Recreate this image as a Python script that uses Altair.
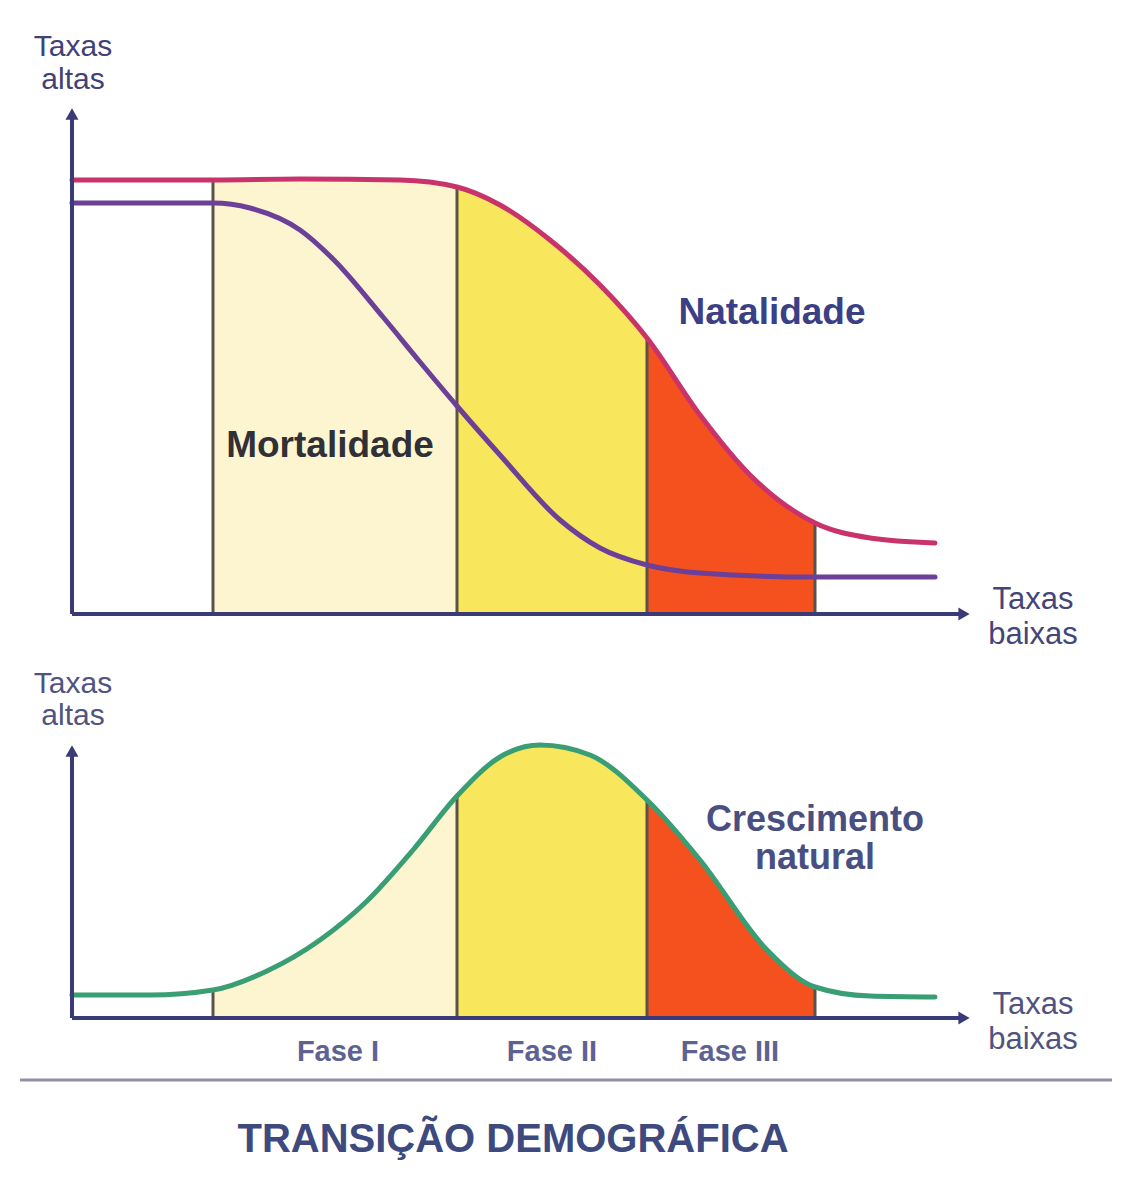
import altair as alt
import pandas as pd

# ---------------- data (x = time, y = rate; arbitrary units) -------------
nat_x = [0, 141, 228, 328, 385, 428, 478, 528, 575, 628, 678, 743, 798, 863]
nat_y = [434, 434, 435, 434, 427, 409, 374, 329, 276, 199, 139, 91, 76, 71]

mor_x = [0, 141, 178, 228, 261, 311, 348, 385, 428, 488, 528, 575, 628, 743, 863]
mor_y = [411, 411, 406, 384, 355, 297, 252, 208, 159, 94, 66, 49, 41, 37, 37]

cre_x = [0, 78, 141, 195, 248, 295, 341, 385, 428, 468, 518, 575, 628, 695, 743, 798, 863]
cre_y = [23, 23, 28, 47, 78, 117, 168, 222, 261, 273, 263, 218, 158, 68, 31, 22, 21]

phase_names = ["Fase I", "Fase II", "Fase III"]
phase_start = [141, 385, 575]
phase_end = [385, 575, 743]
phase_colors = ["#FCF5D0", "#F8E65C", "#F4511F"]
boundaries = [141, 385, 575, 743]

title_text = "TRANSIÇÃO DEMOGRÁFICA"

# ---------------- helpers ----------------
nat = pd.DataFrame({"x": nat_x, "y": nat_y})
mor = pd.DataFrame({"x": mor_x, "y": mor_y})
cre = pd.DataFrame({"x": cre_x, "y": cre_y})

X_DOM = [-64, 1046]
TOP_DOM = [-54, 606]
BOT_DOM = [-170, 350]
AXIS_COL = "#3A3B76"


def X(field="x"):
    return alt.X(f"{field}:Q", scale=alt.Scale(domain=X_DOM, nice=False, zero=False), axis=None)


def Y(dom, field="y"):
    return alt.Y(f"{field}:Q", scale=alt.Scale(domain=dom, nice=False, zero=False), axis=None)


def areas(df, dom):
    out = []
    for s, e, c in zip(phase_start, phase_end, phase_colors):
        sub = df[(df.x >= s) & (df.x <= e)].assign(base=0)
        out.append(
            alt.Chart(sub).mark_area(color=c, interpolate="monotone", opacity=1)
            .encode(x=X(), y=Y(dom), y2="base:Q")
        )
    return out


def rules(df, dom):
    tops = [float(df.loc[df.x == b, "y"].iloc[0]) for b in boundaries]
    d = pd.DataFrame({"x": boundaries, "y": tops, "base": [0] * len(boundaries)})
    return alt.Chart(d).mark_rule(color="#5B5248", strokeWidth=3).encode(x=X(), y=Y(dom), y2="base:Q")


def curve(df, dom, color):
    return alt.Chart(df).mark_line(color=color, strokeWidth=5, interpolate="monotone",
                                   strokeCap="round").encode(x=X(), y=Y(dom))


def axes(dom, xend, ytop):
    hx = pd.DataFrame({"x": [0], "x2": [xend - 6], "y": [0]})
    vy = pd.DataFrame({"x": [0], "y": [0], "y2": [ytop - 6]})
    h = alt.Chart(hx).mark_rule(color=AXIS_COL, strokeWidth=4).encode(x=X(), x2="x2:Q", y=Y(dom))
    v = alt.Chart(vy).mark_rule(color=AXIS_COL, strokeWidth=4).encode(x=X(), y=Y(dom), y2="y2:Q")
    ah = alt.Chart(pd.DataFrame({"x": [xend - 6], "y": [0]})).mark_point(
        shape="triangle-right", filled=True, size=170, color=AXIS_COL, opacity=1).encode(x=X(), y=Y(dom))
    av = alt.Chart(pd.DataFrame({"x": [0], "y": [ytop - 6]})).mark_point(
        shape="triangle-up", filled=True, size=170, color=AXIS_COL, opacity=1).encode(x=X(), y=Y(dom))
    return [h, v, ah, av]


def txt(labels, xs, ys, dom, size, color, weight="bold"):
    d = pd.DataFrame({"t": labels, "x": xs, "y": ys})
    return alt.Chart(d).mark_text(fontSize=size, color=color, fontWeight=weight, font="Liberation Sans",
                                  baseline="middle", align="center").encode(x=X(), y=Y(dom), text="t:N")


# ---------------- top panel ----------------
top_layers = (
    areas(nat, TOP_DOM)
    + [rules(nat, TOP_DOM),
       curve(nat, TOP_DOM, "#C9336C"),
       curve(mor, TOP_DOM, "#6C3F99")]
    + axes(TOP_DOM, 898, 506)
    + [txt(["Taxas", "altas"], [1, 1], [567, 534], TOP_DOM, 30, "#3F4275", "normal"),
       txt(["Taxas", "baixas"], [961, 961], [14, -21], TOP_DOM, 31, "#444678", "normal"),
       txt(["Natalidade"], [700], [301], TOP_DOM, 37, "#3A3F86"),
       txt(["Mortalidade"], [258], [168], TOP_DOM, 37, "#303036")]
)
top = alt.layer(*top_layers).properties(width=1110, height=660)

# ---------------- bottom panel ----------------
sep = alt.Chart(pd.DataFrame({"x": [-52], "x2": [1040], "y": [-62]})).mark_rule(
    color="#9091A8", strokeWidth=3).encode(x=X(), x2="x2:Q", y=Y(BOT_DOM))

phase_centers = [266, 480, 658]
bot_layers = (
    areas(cre, BOT_DOM)
    + [rules(cre, BOT_DOM),
       curve(cre, BOT_DOM, "#3A9E74")]
    + axes(BOT_DOM, 898, 273)
    + [sep,
       txt(["Taxas", "altas"], [1, 1], [334, 302], BOT_DOM, 30, "#505380", "normal"),
       txt(["Taxas", "baixas"], [961, 961], [13, -22], BOT_DOM, 31, "#505380", "normal"),
       txt(["Crescimento", "natural"], [743, 743], [198, 160], BOT_DOM, 36, "#4A4F82"),
       txt(phase_names, phase_centers, [-34, -34, -34], BOT_DOM, 29, "#5E6292"),
       txt([title_text], [441], [-122], BOT_DOM, 40, "#3E4A7E")]
)
bottom = alt.layer(*bot_layers).properties(width=1110, height=520)

chart = alt.vconcat(top, bottom, spacing=0).properties(padding=0).configure_view(stroke=None)

chart.save("out.html", embed_options={"renderer": "svg", "actions": False})
